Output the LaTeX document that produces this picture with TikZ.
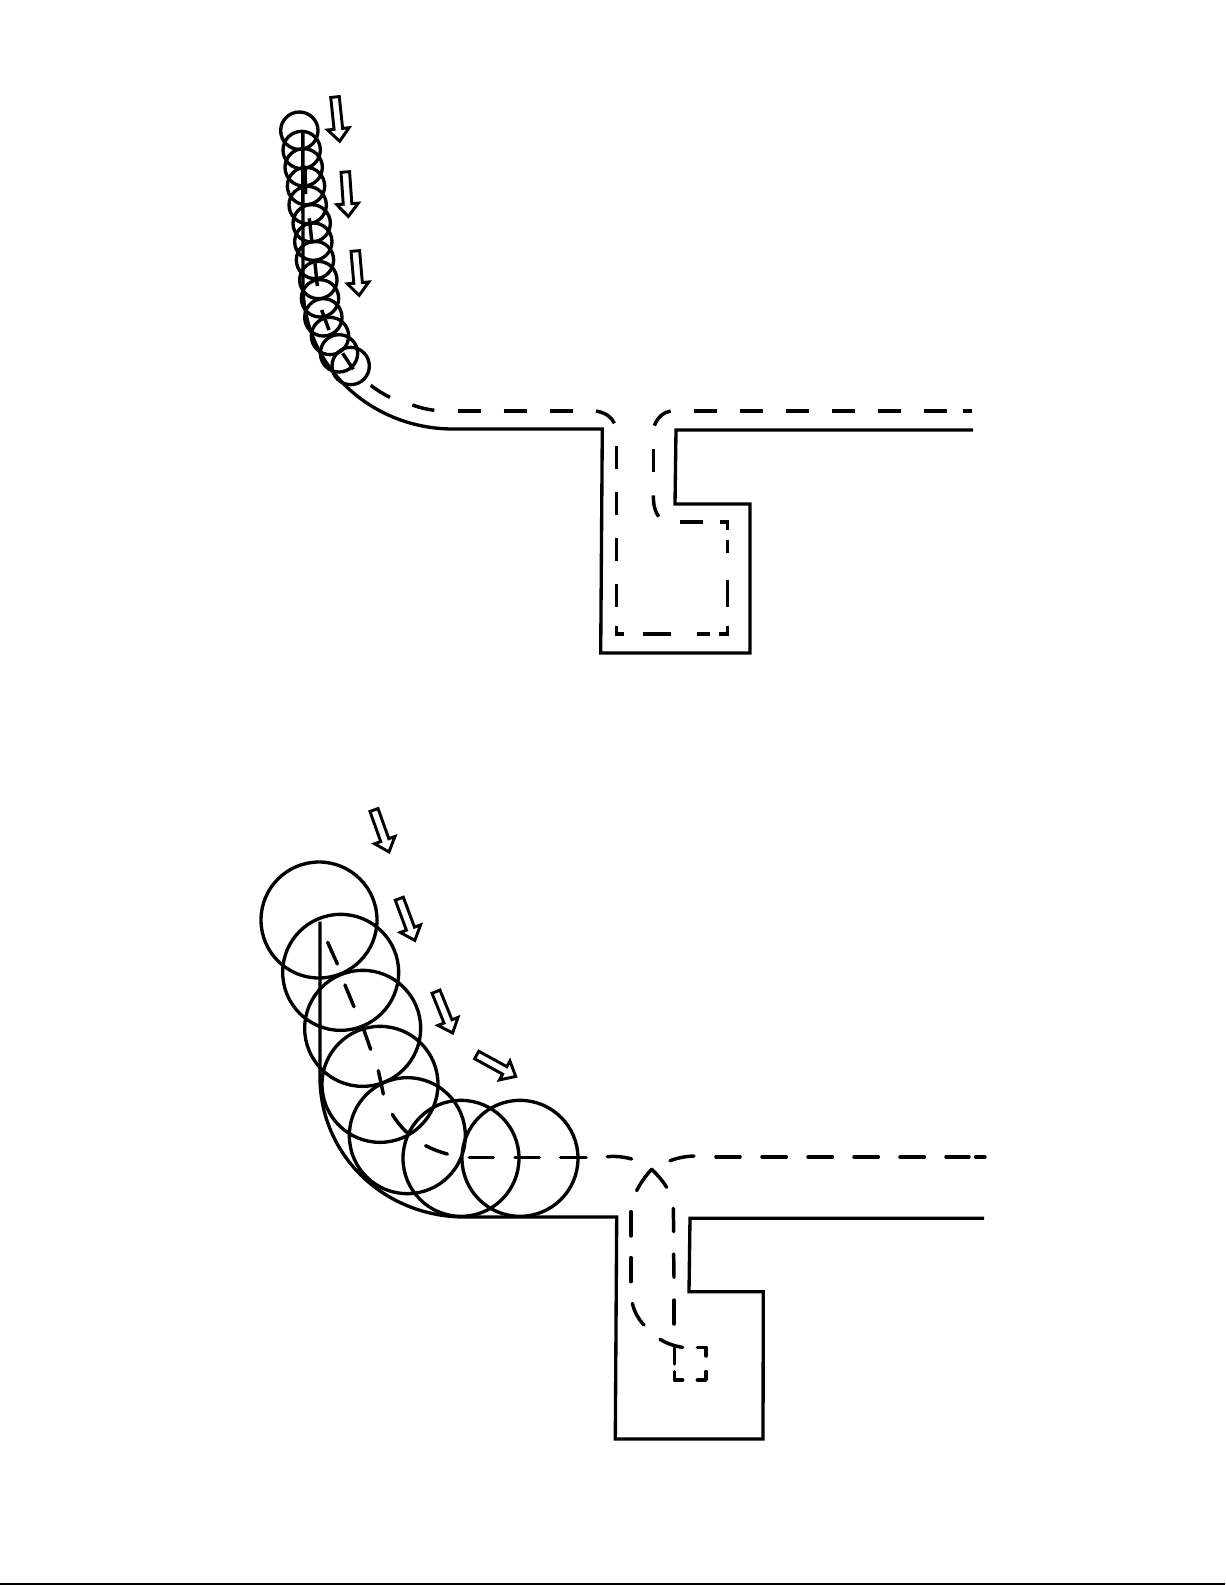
\documentclass[tikz,border=0pt]{standalone}
\tikzset{
  px/.style={x=.75pt,y=-.75pt},
  solidline/.style={line width=2.5pt,line join=miter},
  ring/.style={line width=2.5pt},
  dashbit/.style={line width=2.6pt},
  dashround/.style={line width=2.6pt,line cap=round,line join=round},
  blockarrow/.style={line width=2.2pt,line join=miter,fill=white},
  zoomed/.style={x=.25pt,y=-.25pt}
}
% tail x, tail y, page angle
\newcommand{\barrow}[3]{%
  \begin{scope}[shift={(#1,#2)},rotate=#3,x=.75pt,y=.75pt]
    \draw[blockarrow] (0,-4.3) -- (32,-4.3) -- (32,-10.8) -- (44.5,0) -- (32,10.8) -- (32,4.3) -- (0,4.3) -- cycle;
  \end{scope}}
\begin{document}
\begin{tikzpicture}[px]
\useasboundingbox (0,0) rectangle (1225,1585);
\fill[white] (0,0) rectangle (1225,1585);
% ---------- page rule
\draw[line width=1.8pt] (0,1584) -- (1225,1584);

% ---------- upper figure: wall
\draw[solidline] (303,131) -- (303,285) .. controls (303,367) and (372,429) .. (453,429) -- (602.3,429) -- (600.7,653) -- (750,653) -- (750,504) -- (675,504) -- (676,430) -- (973,430);

% ---------- upper figure: dashes near the slot
\begin{scope}[shift={(560,390)},zoomed]
  \foreach \a/\b in {0/38}{\draw[dashbit] (\a,63) -- (\b,63);}
  \draw[dashbit] (108,63) .. controls (135,68) and (155,80) .. (163,100);
  \draw[dashbit] (283,107) .. controls (293,82) and (310,66) .. (332,63);
  \foreach \a/\b in {168/236,305/375,443/512,582/650}{\draw[dashbit] (170,\a) -- (170,\b);}
  \draw[dashbit] (170,708) -- (170,732) -- (192,732);
  \draw[dashbit] (250,732) -- (332,732);
  \draw[dashbit] (412,732) -- (450,732);
  \draw[dashbit] (478,732) -- (503,732) -- (503,708);
  \draw[dashbit] (503,650) -- (503,570);
  \draw[dashbit] (503,488) -- (503,450);
  \draw[dashbit] (503,420) -- (503,396) -- (480,396);
  \draw[dashbit] (430,396) -- (360,396);
  \draw[dashbit] (296,380) .. controls (285,365) and (280,345) .. (280,316);
  \draw[dashbit] (281,245) -- (281,177);
\end{scope}
\begin{scope}[shift={(660,395)},zoomed]
  \foreach \a/\b in {102/172,240/310,378/448,516/586,654/724,792/862,908/937}{\draw[dashbit] (\a,48) -- (\b,48);}
\end{scope}
\begin{scope}[shift={(340,370)},zoomed]
  \draw[dashbit] (92,46) .. controls (110,60) and (130,72) .. (150,82);
  \draw[dashbit] (217,105) .. controls (240,113) and (260,118) .. (283,121);
  \foreach \a/\b in {353/422,491/560,629/699}{\draw[dashbit] (\a,123) -- (\b,123);}
\end{scope}

% ---------- upper figure: rings and centre line
\begin{scope}[shift={(260,80)},zoomed]
  \foreach \cx/\cy in {118/152,125/210,131/262,138/318,143/375,155/430,160/485,165/540,175/600,180/655,190/712,210/768,237/820,272/858}{
    \draw[ring] (\cx,\cy) circle[radius=14pt];}
  \draw[dashbit] (128,155) -- (128,400);
  \draw[dashbit] (135,265) -- (137,342);
  \draw[dashbit] (148,415) -- (155,480);
  \draw[dashbit] (165,550) -- (172,618);
  \draw[dashbit] (185,690) -- (207,750);
  \draw[dashbit] (248,820) -- (280,868);
\end{scope}
\barrow{335}{97}{-84}
\barrow{345.3}{172}{-86}
\barrow{355.3}{251}{-85}

% ---------- lower figure: wall
\draw[solidline] (320,921.7) -- (320,1077) .. controls (320,1155) and (384,1217) .. (465,1217) -- (616.7,1217) -- (615.3,1439) -- (763,1439) -- (763.3,1291.7) -- (689,1291.7) -- (690,1218.3) -- (984,1218.3);

% ---------- lower figure: rings and dashes
\begin{scope}[shift={(250,800)},zoomed]
  \foreach \cx/\cy in {207/360,272/517,338/685,390/853,472/1007,633/1075,810/1075}{
    \draw[ring] (\cx,\cy) circle[radius=43.5pt];}
  \draw[dashround] (233,427) -- (262,492);
  \draw[dashround] (285,555) -- (312,620);
  \draw[dashround] (340,685) -- (362,748);
  \draw[dashround] (385,812) -- (400,882);
  \draw[dashround] (427,943) .. controls (440,965) and (455,982) .. (470,997);
  \draw[dashround] (527,1037) .. controls (548,1048) and (570,1056) .. (592,1062);
  \foreach \a/\b in {658/730,795/868,935/1007}{\draw[dashround] (\a,1073) -- (\b,1073);}
\end{scope}
\begin{scope}[shift={(590,1140)},zoomed]
  \draw[dashround] (52,50) .. controls (75,48) and (100,50) .. (125,57);
  \draw[dashround] (240,62) .. controls (262,54) and (285,49) .. (312,48);
  \foreach \a/\b in {378/450,517/587}{\draw[dashround] (\a,50) -- (\b,50);}
  \draw[dashround] (140,152) .. controls (152,128) and (168,106) .. (185,88) .. controls (202,104) and (218,122) .. (230,142);
  \foreach \a/\b in {215/288,353/425}{\draw[dashround] (123,\a) -- (123,\b);}
  \draw[dashround] (127,490) .. controls (133,515) and (145,537) .. (162,555);
  \draw[dashround] (210,598) .. controls (230,610) and (252,618) .. (278,622);
  \draw[dashround] (250,205) -- (251,275);
  \draw[dashround] (251,342) -- (252,412);
  \draw[dashround] (252,480) -- (252,552);
  \draw[dashround] (253,622) -- (253,672);
  \draw[dashround] (253,695) -- (253,720) -- (278,720);
  \draw[dashround] (322,720) -- (348,720) -- (348,695);
  \draw[dashround] (348,648) -- (348,622) -- (322,622);
\end{scope}
\begin{scope}[shift={(670,1135)},zoomed]
  \foreach \a/\b in {138/210,276/349,414/487,552/625,690/763,828/897,917/945}{\draw[dashround] (\a,66) -- (\b,66);}
\end{scope}
\begin{scope}[shift={(540,1140)},zoomed]
  \draw[dashround] (62,52) -- (138,52);
\end{scope}
\barrow{374}{810}{-70.3}
\barrow{399.3}{898.7}{-69.6}
\barrow{436}{991.7}{-68}
\barrow{476.7}{1055}{-28.8}
\end{tikzpicture}
\end{document}
